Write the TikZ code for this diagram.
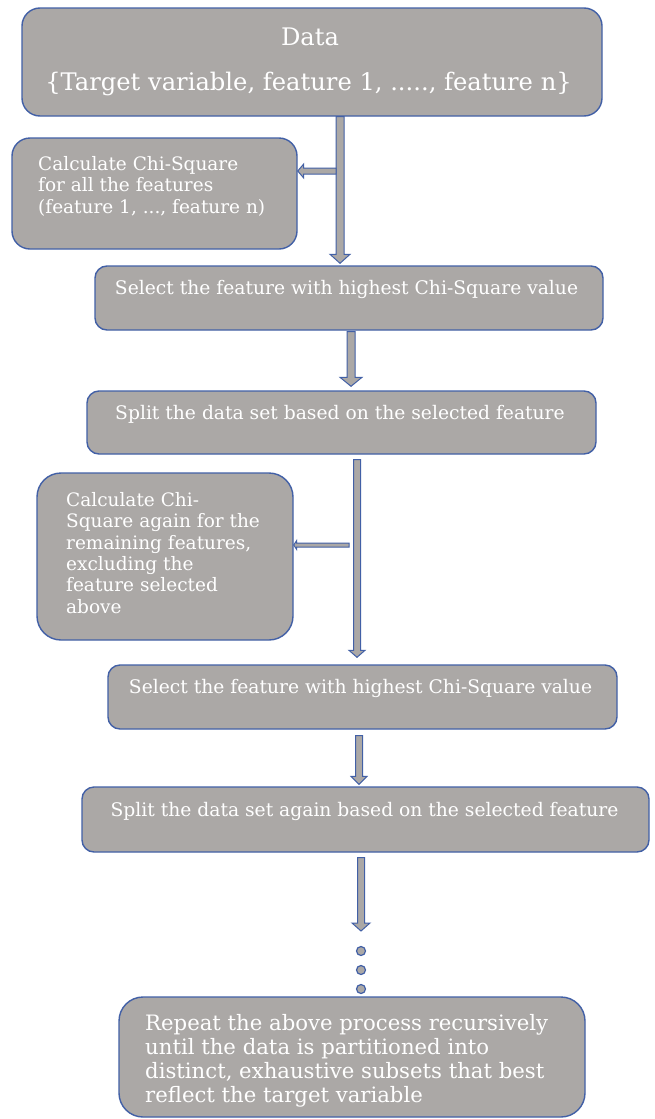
\documentclass[tikz,border=0pt]{standalone}
\usepackage{fontspec}
\setmainfont{DejaVu Serif}
\usetikzlibrary{calc}
\definecolor{bgray}{RGB}{171,168,166}
\definecolor{bblue}{RGB}{66,96,166}
\tikzset{
  box/.style={draw=bblue, fill=bgray, line width=1.4pt, inner sep=0pt},
  txt/.style={text=white, inner sep=0pt},
  arrowst/.style={draw=bblue, fill=bgray, line width=1pt, line join=miter},
  dotst/.style={circle, draw=bblue, fill=bgray, line width=1.2pt, minimum size=9pt, inner sep=0pt}
}
\newcommand\barrow[5]{%
  \coordinate (hb) at ($(#2)!#5!(#1)$);
  \filldraw[arrowst] ($(#1)!#3!90:(#2)$) -- ($(hb)!#3!90:(#2)$) -- ($(hb)!#4!90:(#2)$) -- (#2)
    -- ($(hb)!#4!-90:(#2)$) -- ($(hb)!#3!-90:(#2)$) -- ($(#1)!#3!-90:(#2)$) -- cycle;}
\begin{document}
\begin{tikzpicture}[x=1pt,y=-1pt]
\useasboundingbox[fill=white] (0,0) rectangle (654,1119);
% boxes
\node[box, rounded corners=18pt, minimum width=580pt, minimum height=108pt] (data) at (312,62) {};
\node[box, rounded corners=18pt, minimum width=285pt, minimum height=111pt] (calc1) at (154.5,193.5) {};
\node[box, rounded corners=12pt, minimum width=508pt, minimum height=64pt] (sel1) at (349,298) {};
\node[box, rounded corners=12pt, minimum width=509pt, minimum height=63pt] (split1) at (341.5,422.5) {};
\node[box, rounded corners=24pt, minimum width=256pt, minimum height=167pt] (calc2) at (165,556.5) {};
\node[box, rounded corners=12pt, minimum width=509pt, minimum height=64pt] (sel2) at (362.5,697) {};
\node[box, rounded corners=12pt, minimum width=567pt, minimum height=65pt] (split2) at (365.5,819.5) {};
\node[box, rounded corners=24pt, minimum width=466pt, minimum height=120pt] (rep) at (352,1057) {};
% texts
\node[txt, anchor=base, font=\fontsize{24.2}{28}\selectfont] (t1a) at (310,45) {Data};
\node[txt, anchor=base, font=\fontsize{24.2}{28}\selectfont] (t1b) at (308.5,90) {\{Target variable, feature 1, ....., feature n\}};
\node[txt, anchor=north west, align=left, font=\fontsize{18.5}{21.5}\selectfont] (t2) at (38,156) {Calculate Chi-Square\\for all the features\\(feature 1, ..., feature n)};
\node[txt, anchor=base, font=\fontsize{18.7}{22}\selectfont] (t3) at (346.5,294) {Select the feature with highest Chi-Square value};
\node[txt, anchor=base, font=\fontsize{18.7}{22}\selectfont] (t4) at (340,419) {Split the data set based on the selected feature};
\node[txt, anchor=north west, align=left, font=\fontsize{18.5}{21.4}\selectfont] (t5) at (66,492) {Calculate Chi-\\Square again for the\\remaining features,\\excluding the\\feature selected\\above};
\node[txt, anchor=base, font=\fontsize{18.7}{22}\selectfont] (t6) at (360.5,693) {Select the feature with highest Chi-Square value};
\node[txt, anchor=base, font=\fontsize{18.7}{22}\selectfont] (t7) at (364.5,816) {Split the data set again based on the selected feature};
\node[txt, anchor=north west, align=left, font=\fontsize{21.2}{23.9}\selectfont] (t8) at (145,1014) {Repeat the above process recursively\\until the data is partitioned into\\distinct, exhaustive subsets that best\\reflect the target variable};
% arrow helper coordinates
\coordinate (ax1) at (340,0);
\coordinate (ax2) at (351,0);
\coordinate (ax3) at (357,0);
\coordinate (ax4) at (359,0);
\coordinate (ax5) at (361,0);
\coordinate (sy1) at (336,171);
\coordinate (sy2) at (355,545);
\coordinate (dend) at (361,931);
% arrows
\barrow{data.south -| ax1}{$(sel1.north -| ax1)+(0,-2)$}{4pt}{10pt}{9pt}
\barrow{sy1}{calc1.east |- sy1}{3pt}{7pt}{6pt}
\barrow{$(sel1.south -| ax2)+(0,1)$}{$(split1.north -| ax2)+(0,-4)$}{4pt}{11pt}{9pt}
\barrow{$(split1.south -| ax3)+(0,5)$}{$(sel2.north -| ax3)+(0,-7)$}{3.5pt}{8pt}{7pt}
\barrow{$(sy2)+(-6,0)$}{calc2.east |- sy2}{2pt}{4.5pt}{3pt}
\barrow{$(sel2.south -| ax4)+(0,6)$}{$(split2.north -| ax4)+(0,-2)$}{3.5pt}{8pt}{8pt}
\barrow{$(split2.south -| ax5)+(0,5)$}{dend}{3.5pt}{9pt}{8pt}
% dots
\node[dotst] (d1) at (361,951) {};
\node[dotst] (d2) at (361,970) {};
\node[dotst] (d3) at (361,989) {};
\end{tikzpicture}
\end{document}
